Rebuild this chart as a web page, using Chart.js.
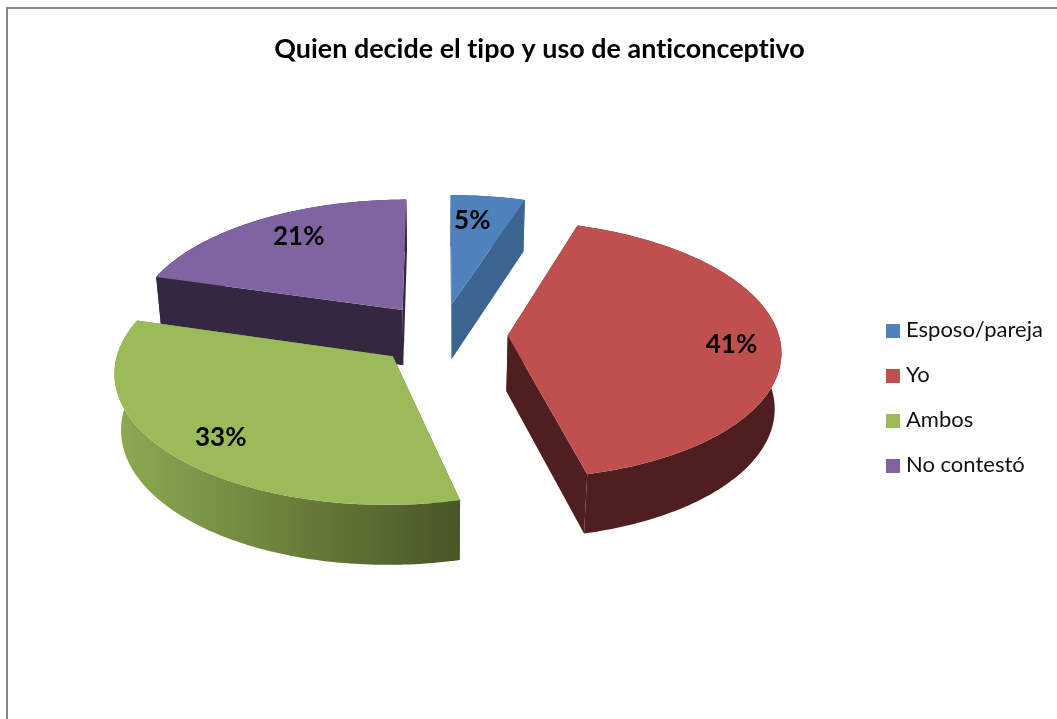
<!DOCTYPE html>
<html>
<head>
<meta charset="utf-8">
<title>Quien decide el tipo y uso de anticonceptivo</title>
<script src="https://cdn.jsdelivr.net/npm/chart.js@4"></script>
<style>
    html, body { margin: 0; height: 100%; background: #fff; overflow: hidden; }
    #frame { position: absolute; left: 6px; top: 7px; width: 1100px; height: 760px; border-left: 2px solid #868686; border-top: 2px solid #868686; }
    #pie { position: absolute; left: 0; top: 0; }
    #legend { position: absolute; left: 886px; top: 307px; font: 22px Lato, sans-serif; color: #111; font-variant-ligatures: none; }
    #legend div { height: 45px; line-height: 44px; white-space: nowrap; }
    #legend i { display: inline-block; width: 14px; height: 14px; margin-right: 6px; vertical-align: -1px; }
</style>
</head>
<body>
<div id="frame"></div>
<canvas id="pie" width="1079" height="719"></canvas>
<div id="legend"></div>
<script>
const titleText = 'Quien decide el tipo y uso de anticonceptivo';
const categories = ['Esposo/pareja', 'Yo', 'Ambos', 'No contestó'];
const percentValues = [5, 41.2, 33.3, 20.5]; // labels show these rounded
const topColors = ['#4f81bd', '#c0504d', '#9bbb59', '#8064a2'];
const wallColors = ['#3c6491', '#4f1f1f', null, '#33283f'];
const greenWallStops = ['#8cab52', '#495626'];

// view of the tilted pie
const rimRadius = 271;
const tilt = 0.47;
const perspective = 0.0004;
const wallHeight = 57;
const wallFade = 0.02;
const labelRadius = 0.8;
const labelNudges = [[-9, 4], [6, 5], [1, 3], [13, 0]];

function project(c, u, v, z) {
    const s = 1 / (1 - perspective * v + wallFade * z);
    return { x: c.x + u * s, y: c.y + (tilt * v + wallHeight * z) * s };
}

function tracePoly(ctx, points, fill) {
    ctx.beginPath();
    points.forEach((p, i) => i ? ctx.lineTo(p.x, p.y) : ctx.moveTo(p.x, p.y));
    ctx.closePath();
    ctx.fillStyle = fill;
    ctx.fill();
}

function sliceGeometry(arc) {
    const k = rimRadius / arc.outerRadius;
    const mid = (arc.startAngle + arc.endAngle) / 2;
    const push = arc.options.offset / 4 * k;
    return { k, mid, ou: Math.cos(mid) * push, ov: Math.sin(mid) * push };
}

const tiltedPie = {
    id: 'tiltedPie',
    // title stays centred on the whole canvas, the pie keeps the padded area
    afterLayout(chart) {
        chart.titleBlock.left = 0;
        chart.titleBlock.right = chart.width;
    },
    beforeDraw(chart) {
        chart.ctx.letterSpacing = '0.02px'; // keeps "ti" from turning into a ligature
    },
    beforeDatasetsDraw(chart) {
        const ctx = chart.ctx;
        const arcs = chart.getDatasetMeta(0).data;
        const order = arcs.map((a, i) => i).sort((a, b) =>
            Math.sin((arcs[a].startAngle + arcs[a].endAngle) / 2) - Math.sin((arcs[b].startAngle + arcs[b].endAngle) / 2));

        order.forEach(i => {
            const arc = arcs[i];
            const g = sliceGeometry(arc);
            const rim = [];
            const steps = Math.ceil(arc.circumference * 60);
            for (let n = 0; n <= steps; n++) {
                const a = arc.startAngle + arc.circumference * n / steps;
                rim.push([g.ou + rimRadius * Math.cos(a), g.ov + rimRadius * Math.sin(a)]);
            }
            const top = rim.map(p => project(arc, p[0], p[1], 0));
            const bottom = rim.map(p => project(arc, p[0], p[1], 1));
            const tipTop = project(arc, g.ou, g.ov, 0);
            const tipBottom = project(arc, g.ou, g.ov, 1);

            let wall = wallColors[i];
            if (!wall) {
                const xs = top.map(p => p.x);
                wall = ctx.createLinearGradient(Math.min(...xs), 0, Math.max(...xs), 0);
                wall.addColorStop(0, greenWallStops[0]);
                wall.addColorStop(1, greenWallStops[1]);
            }
            tracePoly(ctx, [tipTop, top[0], bottom[0], tipBottom], wall);
            tracePoly(ctx, [tipTop, top[steps], bottom[steps], tipBottom], wall);
            tracePoly(ctx, top.concat(bottom.slice().reverse()), wall);
            tracePoly(ctx, [tipTop].concat(top), arc.options.backgroundColor);
        });

        // percentage labels
        ctx.font = 'bold 26px Lato, sans-serif';
        ctx.fillStyle = '#000';
        ctx.textAlign = 'center';
        ctx.textBaseline = 'middle';
        arcs.forEach((arc, i) => {
            const g = sliceGeometry(arc);
            const r = rimRadius * labelRadius;
            const p = project(arc, g.ou + r * Math.cos(g.mid), g.ov + r * Math.sin(g.mid), 0);
            ctx.fillText(Math.round(percentValues[i]) + '%', p.x + labelNudges[i][0], p.y + labelNudges[i][1]);
        });
        return false;
    }
};

new Chart(document.getElementById('pie'), {
    type: 'pie',
    data: {
        labels: categories,
        datasets: [{
            data: percentValues,
            backgroundColor: topColors,
            borderWidth: 0,
            offset: 173
        }]
    },
    options: {
        responsive: false,
        animation: false,
        layout: { padding: { right: 196, bottom: 121 } },
        plugins: {
            legend: { display: false },
            tooltip: { enabled: false },
            title: {
                display: true,
                text: titleText,
                color: '#000',
                font: { family: 'Lato, sans-serif', size: 26.9, weight: 'bold' },
                padding: { top: 33, bottom: 5.5 }
            }
        }
    },
    plugins: [tiltedPie]
});

document.getElementById('legend').innerHTML = categories
    .map((c, i) => `<div><i style="background:${topColors[i]}"></i>${c}</div>`).join('');
</script>
</body>
</html>
